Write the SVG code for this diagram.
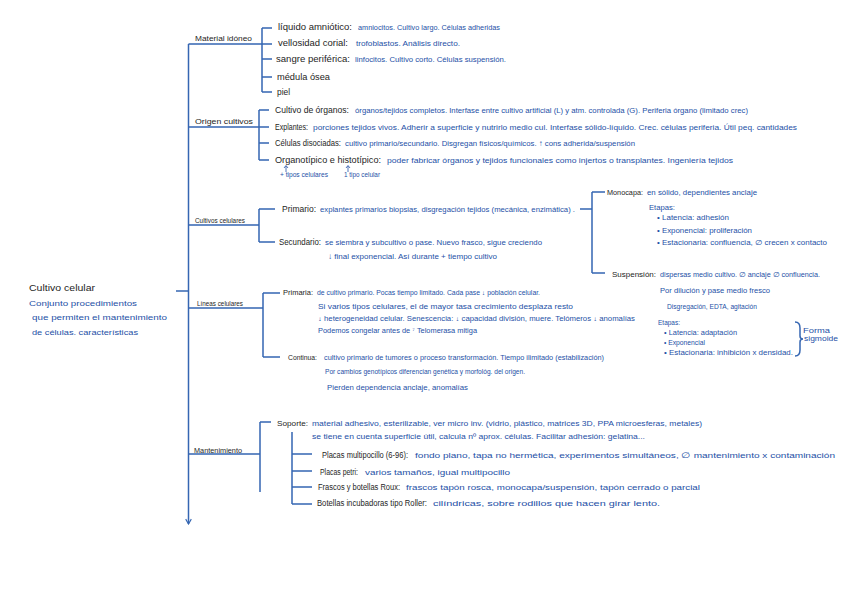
<svg xmlns="http://www.w3.org/2000/svg" width="848" height="599" viewBox="0 0 848 599">
<style>
text{font-family:"Liberation Sans",Arial,sans-serif}
.k{fill:#1e1e24;font-size:9px}
.b{fill:#2450a6;font-size:8px}
.s{fill:#2450a6;font-size:6.5px}
.lab{fill:#1e1e24;font-size:7px}
.ln{stroke:#3566b2;stroke-width:1.5;fill:none}
</style>
<defs>
<marker id="ah" viewBox="0 0 10 10" refX="9" refY="5" markerWidth="7" markerHeight="7" orient="auto" markerUnits="userSpaceOnUse">
<path d="M2,1 L9,5 L2,9" fill="none" stroke="#3566b2" stroke-width="1.6"/>
</marker>
</defs>
<g id="connectors">
<path class="ln" d="M188.5,44 V524" marker-end="url(#ah)"/>
<path class="ln" d="M176,291 H188.5"/>
<path class="ln" d="M188.5,44 H262 M262,28 V92 M262,28 H272 M262,44 H272 M262,59 H272 M262,77 H272 M262,92 H272"/>
<path class="ln" d="M188.5,127 H259 M259,110 V160 M259,110 H269 M259,127 H269 M259,143 H269 M259,160 H269"/>
<path class="ln" d="M188.5,225 H259 M259,209 V242 M259,209 H275 M259,242 H275"/>
<path class="ln" d="M580,209 H592 M592,192 V273 M592,192 H605 M592,273 H605"/>
<path class="ln" d="M188.5,308 H263 M263,293 V357 M263,293 H280 M263,357 H280"/>
<path class="ln" d="M188.5,454 H260 M260,422 V492 M260,422 H271"/>
<path class="ln" d="M292,432 V504 M292,454 H312 M292,471 H312 M292,487 H312 M292,504 H312"/>
<path class="ln" d="M795,322 q5,0 5,6 v8 q0,3 3,3 q-3,0 -3,3 v8 q0,6 -5,6" stroke-width="1"/>
<path d="M286,172 v-6 M284,168 l2,-2.5 l2,2.5 M348,172 v-6 M346,168 l2,-2.5 l2,2.5" stroke="#2450a6" stroke-width="0.8" fill="none"/>
</g>
<g id="root">
<text class="k" x="29" y="291" textLength="66" lengthAdjust="spacingAndGlyphs">Cultivo celular</text>
<text class="b" x="29" y="306" textLength="108" lengthAdjust="spacingAndGlyphs">Conjunto procedimientos</text>
<text class="b" x="32" y="320" textLength="135" lengthAdjust="spacingAndGlyphs">que permiten el mantenimiento</text>
<text class="b" x="32" y="335" textLength="106" lengthAdjust="spacingAndGlyphs">de células. características</text>
</g>
<g id="material">
<text class="lab" x="195" y="41" textLength="57" lengthAdjust="spacingAndGlyphs">Material idóneo</text>
<text class="k" x="278" y="30" textLength="74" lengthAdjust="spacingAndGlyphs">líquido amniótico:</text>
<text class="b" x="358" y="30" textLength="142" lengthAdjust="spacingAndGlyphs">amniocitos. Cultivo largo. Células adheridas</text>
<text class="k" x="278" y="46" textLength="70" lengthAdjust="spacingAndGlyphs">vellosidad corial:</text>
<text class="b" x="356" y="46" textLength="104" lengthAdjust="spacingAndGlyphs">trofoblastos. Análisis directo.</text>
<text class="k" x="276" y="62" textLength="74" lengthAdjust="spacingAndGlyphs">sangre periférica:</text>
<text class="b" x="355" y="62" textLength="151" lengthAdjust="spacingAndGlyphs">linfocitos. Cultivo corto. Células suspensión.</text>
<text class="k" x="277" y="80" textLength="53" lengthAdjust="spacingAndGlyphs">médula ósea</text>
<text class="k" x="277" y="95" textLength="13" lengthAdjust="spacingAndGlyphs">piel</text>
</g>
<g id="origen">
<text class="lab" x="195" y="124" textLength="58" lengthAdjust="spacingAndGlyphs">Origen cultivos</text>
<text class="k" x="275" y="113" textLength="74" lengthAdjust="spacingAndGlyphs">Cultivo de órganos:</text>
<text class="b" x="355" y="113" textLength="393" lengthAdjust="spacingAndGlyphs">órganos/tejidos completos. Interfase entre cultivo artificial (L) y atm. controlada (G). Periferia órgano (limitado crec)</text>
<text class="k" x="275" y="130" textLength="33" lengthAdjust="spacingAndGlyphs">Explantes:</text>
<text class="b" x="313" y="130" textLength="484" lengthAdjust="spacingAndGlyphs">porciones tejidos vivos. Adherir a superficie y nutrirlo medio cul. Interfase sólido-líquido. Crec. células periferia. Útil peq. cantidades</text>
<text class="k" x="275" y="146" textLength="66" lengthAdjust="spacingAndGlyphs">Células disociadas:</text>
<text class="b" x="345" y="146" textLength="290" lengthAdjust="spacingAndGlyphs">cultivo primario/secundario. Disgregan físicos/químicos. ↑ cons adherida/suspensión</text>
<text class="k" x="275" y="163" textLength="106" lengthAdjust="spacingAndGlyphs">Organotípico e histotípico:</text>
<text class="b" x="387" y="163" textLength="346" lengthAdjust="spacingAndGlyphs">poder fabricar órganos y tejidos funcionales como injertos o transplantes. Ingeniería tejidos</text>
<text class="s" x="280" y="177" textLength="48" lengthAdjust="spacingAndGlyphs">+ tipos celulares</text>
<text class="s" x="344" y="177" textLength="36" lengthAdjust="spacingAndGlyphs">1 tipo celular</text>
</g>
<g id="cultivos">
<text class="lab" x="195" y="223" textLength="50" lengthAdjust="spacingAndGlyphs">Cultivos celulares</text>
<text class="k" x="282" y="212" textLength="34" lengthAdjust="spacingAndGlyphs">Primario:</text>
<text class="b" x="320" y="212" textLength="255" lengthAdjust="spacingAndGlyphs">explantes primarios biopsias, disgregación tejidos (mecánica, enzimática) .</text>
<text class="k" x="279" y="245" textLength="42" lengthAdjust="spacingAndGlyphs">Secundario:</text>
<text class="b" x="325" y="245" textLength="217" lengthAdjust="spacingAndGlyphs">se siembra y subcultivo o pase. Nuevo frasco, sigue creciendo</text>
<text class="b" x="328" y="259" textLength="169" lengthAdjust="spacingAndGlyphs">↓ final exponencial. Así durante + tiempo cultivo</text>
</g>
<g id="monocapa">
<text class="k" x="607" y="195" textLength="36" lengthAdjust="spacingAndGlyphs" style="font-size:8px">Monocapa:</text>
<text class="b" x="647" y="195" textLength="110" lengthAdjust="spacingAndGlyphs">en sólido, dependientes anclaje</text>
<text class="s" x="649" y="210" textLength="26" lengthAdjust="spacingAndGlyphs">Etapas:</text>
<text class="s" x="657" y="220" textLength="72" lengthAdjust="spacingAndGlyphs">• Latencia: adhesión</text>
<text class="s" x="657" y="233" textLength="95" lengthAdjust="spacingAndGlyphs">• Exponencial: proliferación</text>
<text class="s" x="657" y="245" textLength="170" lengthAdjust="spacingAndGlyphs">• Estacionaria: confluencia, ∅ crecen x contacto</text>
</g>
<g id="suspension">
<text class="k" x="612" y="277" textLength="44" lengthAdjust="spacingAndGlyphs" style="font-size:8px">Suspensión:</text>
<text class="s" x="660" y="277" textLength="160" lengthAdjust="spacingAndGlyphs">dispersas medio cultivo. ∅ anclaje ∅ confluencia.</text>
<text class="s" x="660" y="293" textLength="110" lengthAdjust="spacingAndGlyphs">Por dilución y pase medio fresco</text>
<text class="s" x="667" y="309" textLength="90" lengthAdjust="spacingAndGlyphs">Disgregación, EDTA, agitación</text>
</g>
<g id="lineas">
<text class="lab" x="197" y="306" textLength="46" lengthAdjust="spacingAndGlyphs">Líneas celulares</text>
<text class="k" x="283" y="295" textLength="30" lengthAdjust="spacingAndGlyphs" style="font-size:8px">Primaria:</text>
<text class="s" x="317" y="295" textLength="223" lengthAdjust="spacingAndGlyphs">de cultivo primario. Pocas tiempo limitado. Cada pase ↓ población celular.</text>
<text class="s" x="318" y="309" textLength="255" lengthAdjust="spacingAndGlyphs">Si varios tipos celulares, el de mayor tasa crecimiento desplaza resto</text>
<text class="s" x="318" y="321" textLength="317" lengthAdjust="spacingAndGlyphs">↓ heterogeneidad celular. Senescencia: ↓ capacidad división, muere. Telómeros ↓ anomalías</text>
<text class="s" x="318" y="333" textLength="159" lengthAdjust="spacingAndGlyphs">Podemos congelar antes de ⁷ Telomerasa mitiga</text>
<text class="s" x="658" y="325" textLength="22" lengthAdjust="spacingAndGlyphs">Etapas:</text>
<text class="s" x="664" y="335" textLength="73" lengthAdjust="spacingAndGlyphs">• Latencia: adaptación</text>
<text class="s" x="664" y="345" textLength="41" lengthAdjust="spacingAndGlyphs">• Exponencial</text>
<text class="s" x="664" y="355" textLength="129" lengthAdjust="spacingAndGlyphs">• Estacionaria: inhibición x densidad.</text>
<text class="s" x="803" y="333" textLength="27" lengthAdjust="spacingAndGlyphs">Forma</text>
<text class="s" x="804" y="341" textLength="34" lengthAdjust="spacingAndGlyphs">sigmoide</text>
<text class="k" x="288" y="360" textLength="29" lengthAdjust="spacingAndGlyphs" style="font-size:8px">Continua:</text>
<text class="s" x="324" y="360" textLength="280" lengthAdjust="spacingAndGlyphs">cultivo primario de tumores o proceso transformación. Tiempo ilimitado (estabilización)</text>
<text class="s" x="325" y="374" textLength="200" lengthAdjust="spacingAndGlyphs">Por cambios genotípicos diferencian genética y morfológ. del origen.</text>
<text class="s" x="327" y="390" textLength="141" lengthAdjust="spacingAndGlyphs">Pierden dependencia anclaje, anomalías</text>
</g>
<g id="mantenimiento">
<text class="lab" x="194" y="453" textLength="48" lengthAdjust="spacingAndGlyphs">Mantenimiento</text>
<text class="k" x="277" y="426" textLength="31" lengthAdjust="spacingAndGlyphs" style="font-size:8px">Soporte:</text>
<text class="b" x="312" y="426" textLength="390" lengthAdjust="spacingAndGlyphs">material adhesivo, esterilizable, ver micro inv. (vidrio, plástico, matrices 3D, PPA microesferas, metales)</text>
<text class="b" x="312" y="439" textLength="333" lengthAdjust="spacingAndGlyphs">se tiene en cuenta superficie útil, calcula nº aprox. células. Facilitar adhesión: gelatina...</text>
<text class="k" x="322" y="458" textLength="86" lengthAdjust="spacingAndGlyphs" style="font-size:8.5px">Placas multipocillo (6-96):</text>
<text class="b" x="415" y="458" textLength="420" lengthAdjust="spacingAndGlyphs" style="font-size:7.5px">fondo plano, tapa no hermética, experimentos simultáneos, ∅ mantenimiento x contaminación</text>
<text class="k" x="320" y="475" textLength="38" lengthAdjust="spacingAndGlyphs" style="font-size:8.5px">Placas petri:</text>
<text class="b" x="365" y="475" textLength="145" lengthAdjust="spacingAndGlyphs" style="font-size:7.5px">varios tamaños, igual multipocillo</text>
<text class="k" x="318" y="490" textLength="82" lengthAdjust="spacingAndGlyphs" style="font-size:8.5px">Frascos y botellas Roux:</text>
<text class="b" x="406" y="490" textLength="294" lengthAdjust="spacingAndGlyphs" style="font-size:7.5px">frascos tapón rosca, monocapa/suspensión, tapón cerrado o parcial</text>
<text class="k" x="317" y="506" textLength="110" lengthAdjust="spacingAndGlyphs" style="font-size:8.5px">Botellas incubadoras tipo Roller:</text>
<text class="b" x="433" y="506" textLength="227" lengthAdjust="spacingAndGlyphs" style="font-size:7.5px">cilíndricas, sobre rodillos que hacen girar lento.</text>
</g>
</svg>
